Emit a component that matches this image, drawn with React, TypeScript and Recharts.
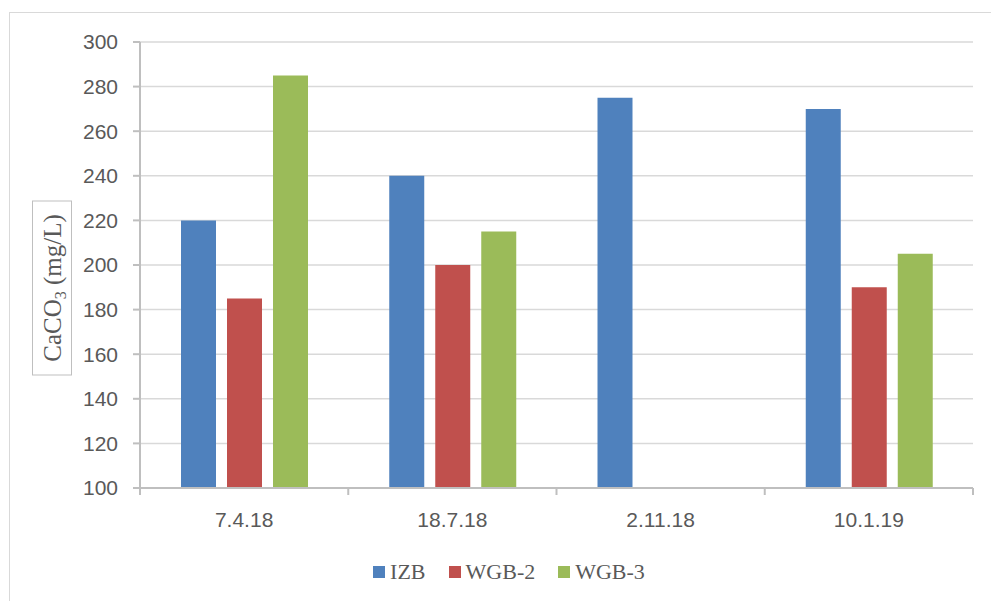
// Grouped columns: CaCO3 by sampling date for three wells, Excel-style look.
import { BarChart, Bar, XAxis, YAxis, CartesianGrid, Legend, Label } from "recharts";

const categories = ["7.4.18", "18.7.18", "2.11.18", "10.1.19"];
const izb = [220, 240, 275, 270];
const wgb2 = [185, 200, null, 190];
const wgb3 = [285, 215, null, 205];
const yTicks = [100, 120, 140, 160, 180, 200, 220, 240, 260, 280, 300];

const seriesNames = ["IZB", "WGB-2", "WGB-3"];
const colors = ["#4F81BD", "#C0504D", "#9BBB59"];

const data = categories.map((date, i) => ({
  date,
  IZB: izb[i],
  "WGB-2": wgb2[i],
  "WGB-3": wgb3[i],
}));

const AXIS = "#BFBFBF";
const TEXT = "#595959";
const SANS = "'Liberation Sans', Arial, sans-serif";
const SERIF = "'Liberation Serif', 'Times New Roman', serif";

// category label + tick marks on the category boundaries
function XTick(props: any) {
  const { x, y, payload, index, visibleTicksCount } = props;
  const half = payload?.offset ?? 0;
  return (
    <g>
      <line x1={x - half} x2={x - half} y1={y} y2={y + 7} stroke={AXIS} strokeWidth={2} />
      {index === visibleTicksCount - 1 && (
        <line x1={x + half} x2={x + half} y1={y} y2={y + 7} stroke={AXIS} strokeWidth={2} />
      )}
      <text x={x} y={y + 24} dy="0.71em" textAnchor="middle" fill={TEXT} fontSize={21} fontFamily={SANS}>
        {payload.value}
      </text>
    </g>
  );
}

function YTitle(props: any) {
  const vb = props.viewBox || { x: 70, y: 29, width: 60, height: 446 };
  const cx = vb.x - 28;
  const cy = vb.y + vb.height / 2 + 23;
  const w = 39;
  const h = 174;
  return (
    <g>
      <rect x={cx - w / 2} y={cy - h / 2} width={w} height={h} fill="#fff" stroke={AXIS} strokeWidth={1} />
      <text
        x={cx}
        y={cy}
        transform={`rotate(-90 ${cx} ${cy})`}
        textAnchor="middle"
        dominantBaseline="central"
        fill={TEXT}
        fontSize={25}
        fontFamily={SERIF}
      >
        CaCO
        <tspan baselineShift="sub" fontSize={16}>3</tspan>
        <tspan> (mg/L)</tspan>
      </text>
    </g>
  );
}

function LegendBox() {
  return (
    <div
      style={{
        display: "flex",
        justifyContent: "center",
        alignItems: "center",
        paddingLeft: 18,
        fontFamily: SERIF,
        fontSize: 22,
        color: TEXT,
        lineHeight: "26px",
      }}
    >
      {seriesNames.map((n, i) => (
        <div key={n} style={{ display: "flex", alignItems: "center", marginRight: i < 2 ? 23 : 0 }}>
          <span style={{ width: 12, height: 12, background: colors[i], marginRight: 5, display: "inline-block" }} />
          <span>{n}</span>
        </div>
      ))}
    </div>
  );
}

export default function App() {
  return (
    <div
      style={{
        position: "absolute",
        left: 9,
        top: 12,
        width: 983,
        height: 600,
        border: "1px solid #D9D9D9",
        boxSizing: "border-box",
        background: "#fff",
      }}
    >
      <BarChart
        width={980}
        height={588}
        data={data}
        margin={{ top: 29, right: 17, left: 70, bottom: 0 }}
        barSize={35}
        barGap={11}
      >
        <CartesianGrid horizontal vertical={false} stroke="#D9D9D9" strokeWidth={1.5} />
        <XAxis
          dataKey="date"
          height={113}
          tickSize={0}
          tickMargin={0}
          tick={<XTick />}
          axisLine={{ stroke: AXIS, strokeWidth: 2 }}
          tickLine={false}
          interval={0}
        />
        <YAxis
          width={60}
          domain={[100, 300]}
          ticks={yTicks}
          interval={0}
          tickSize={7}
          tickMargin={15}
          axisLine={{ stroke: AXIS, strokeWidth: 2 }}
          tickLine={{ stroke: AXIS, strokeWidth: 2 }}
          tick={{ fill: TEXT, fontSize: 21, fontFamily: SANS }}
        >
          <Label content={<YTitle />} />
        </YAxis>
        {seriesNames.map((n, i) => (
          <Bar key={n} dataKey={n} fill={colors[i]} isAnimationActive={false} />
        ))}
        <Legend
          verticalAlign="middle"
          align="center"
          layout="horizontal"
          content={<LegendBox />}
          wrapperStyle={{ top: 546, left: 0, width: 980 }}
        />
      </BarChart>
    </div>
  );
}
